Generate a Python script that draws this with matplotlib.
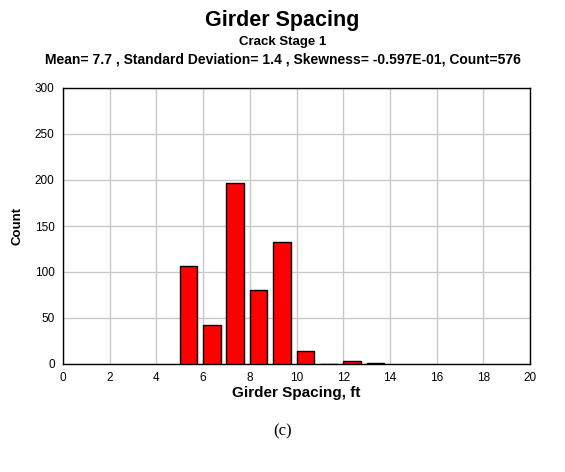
import matplotlib
matplotlib.use('Agg')
import matplotlib.pyplot as plt
import numpy as np

plt.rcParams['font.family'] = ['Liberation Sans', 'DejaVu Sans']

bin_left = [5, 6, 7, 8, 9, 10, 11, 12, 13]
counts = [106, 42, 197, 80, 133, 14, 0, 3, 1]
xticks = [0, 2, 4, 6, 8, 10, 12, 14, 16, 18, 20]
yticks = [0, 50, 100, 150, 200, 250, 300]

fig = plt.figure(figsize=(5.65, 4.72), dpi=100)
ax = fig.add_axes([63/565, 1 - 364/472, (530 - 63)/565, (364 - 88)/472])

ax.bar(bin_left, counts, width=0.75, align='edge', color='#ff0000',
       edgecolor='black', linewidth=1.0, zorder=3)

ax.set_xlim(0, 20)
ax.set_ylim(0, 300)
ax.set_xticks(xticks)
ax.set_yticks(yticks)
ax.grid(True, color='#c8c8c8', linewidth=1.0, zorder=0)
ax.tick_params(length=0, labelsize=8.5, pad=6)
for s in ax.spines.values():
    s.set_linewidth(1.0)
    s.set_color('black')

ax.set_xlabel('Girder Spacing, ft', fontsize=11, fontweight='bold', labelpad=1)
ax.set_ylabel('Count', fontsize=9.5, fontweight='bold', labelpad=8)

fig.text(0.5, 1 - 26/472, 'Girder Spacing', ha='center', va='baseline',
         fontsize=15.5, fontweight='bold')
fig.text(0.5, 1 - 45/472, 'Crack Stage 1', ha='center', va='baseline',
         fontsize=9.5, fontweight='bold')
fig.text(0.5, 1 - 63/472,
         'Mean= 7.7 , Standard Deviation= 1.4 , Skewness= -0.597E-01, Count=576',
         ha='center', va='baseline', fontsize=10, fontweight='bold')
fig.text(0.5, 1 - 431/472, '(c)', ha='center', va='center', fontsize=12,
         family=['Liberation Serif', 'DejaVu Serif'])

fig.savefig('out.png', dpi=100)
